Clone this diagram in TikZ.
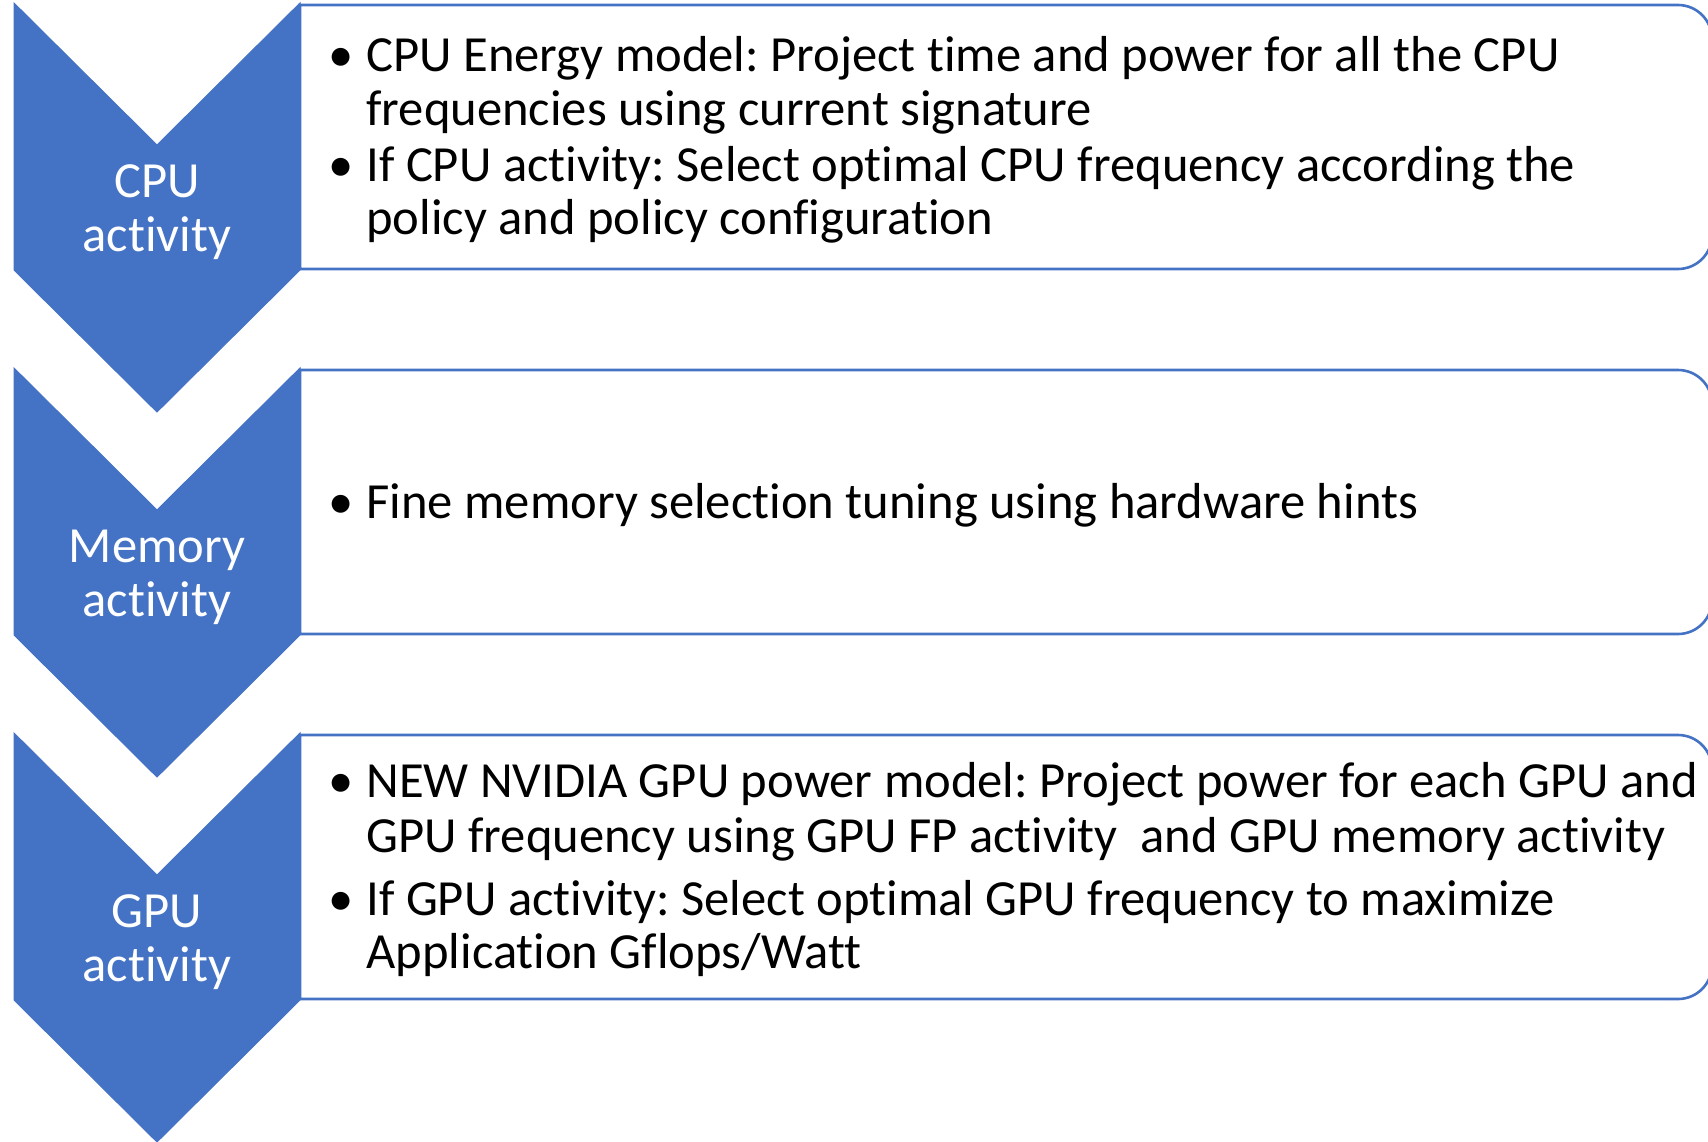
\documentclass[tikz,border=0pt]{standalone}
\usepackage{fontspec}
\setmainfont{Carlito}[RawFeature={-liga;-clig;-calt;-dlig}]
\frenchspacing
\definecolor{accent}{HTML}{4472C4}
\tikzset{
  chev/.style={fill=accent, draw=accent, line width=0.5pt},
  boxline/.style={draw=accent, line width=1.3pt, fill=white},
  ctext/.style={text=white, font=\fontsize{25.3}{27}\selectfont, inner sep=0pt, anchor=base},
  btext/.style={text=black, font=\fontsize{25.3}{27}\selectfont, inner sep=0pt, anchor=base west},
  bul/.style={text=black, font=\fontsize{25.3}{27}\selectfont, inner sep=0pt, anchor=base},
}
\begin{document}
\begin{tikzpicture}[x=0.5pt,y=-0.5pt]
\useasboundingbox (0,0) rectangle (1708,1141);
\fill[white] (0,0) rectangle (1708,1141);
\clip (0,0) rectangle (1708,1141);
% boxes
\foreach \t in {3,368,733}{
  \draw[boxline] (1000,\t+2) [rounded corners=17pt] -- (1712,\t+2) -- (1712,\t+266) -- (1000,\t+266) [sharp corners] -- (300,\t+266) -- (300,\t+2) -- cycle;
}
% chevrons
\foreach \t in {3,368,733}{
  \path[chev] (14,\t) -- (157,\t+142) -- (300,\t) -- (300,\t+267) -- (157,\t+409) -- (14,\t+267) -- cycle;
}
% chevron labels
\node[ctext] (l1a) at (157,197) {CPU};
\node[ctext] (l1b) at (157,251.5) {activity};
\node[ctext] (l2a) at (157,562) {Memory};
\node[ctext] (l2b) at (157,616.5) {activity};
\node[ctext] (l3a) at (157,927) {GPU};
\node[ctext] (l3b) at (157,981.5) {activity};
% box 1
\node[bul] (b1a) at (341,71) {\textbullet};
\node[btext] (t1a) at (366,71) {CPU Energy model: Project time and power for all the CPU};
\node[btext] (t1b) at (366,125.5) {frequencies using current signature};
\node[bul] (b1b) at (341,181) {\textbullet};
\node[btext] (t1c) at (366,181) {If CPU activity: Select optimal CPU frequency according the};
\node[btext] (t1d) at (366,234.5) {policy and policy configuration};
% box 2
\node[bul] (b2a) at (341,518) {\textbullet};
\node[btext] (t2a) at (366,518) {Fine memory selection tuning using hardware hints};
% box 3
\node[bul] (b3a) at (341,797.5) {\textbullet};
\node[btext] (t3a) at (366,797.5) {NEW NVIDIA GPU power model: Project power for each GPU and};
\node[btext] (t3b) at (366,852) {GPU frequency using GPU FP activity\ \ and GPU memory activity};
\node[bul] (b3b) at (341,915) {\textbullet};
\node[btext] (t3c) at (366,915) {If GPU activity: Select optimal GPU frequency to maximize};
\node[btext] (t3d) at (366,968.5) {Application Gflops/Watt};
\end{tikzpicture}
\end{document}
